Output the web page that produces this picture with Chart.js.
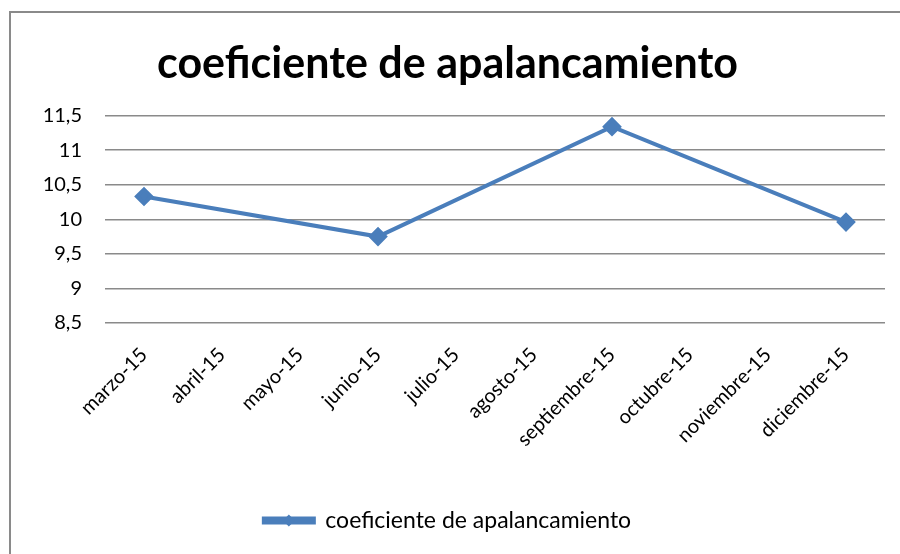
<!DOCTYPE html>
<html lang="es">
<head>
  <meta charset="UTF-8">
  <title>coeficiente de apalancamiento</title>
  <script src="https://cdn.jsdelivr.net/npm/chart.js"></script>
  <style>
    body { margin: 0; background: #fff; }
    #wrap { width: 900px; height: 554px; }
  </style>
</head>
<body>
  <div id="wrap"><canvas id="chart"></canvas></div>
  <script>
    const months = ['marzo-15', 'abril-15', 'mayo-15', 'junio-15', 'julio-15', 'agosto-15',
                    'septiembre-15', 'octubre-15', 'noviembre-15', 'diciembre-15'];
    const coeficiente = [10.33, null, null, 9.75, null, null, 11.34, null, null, 9.96];
    const yTicks = [8.5, 9, 9.5, 10, 10.5, 11, 11.5];

    const blue = '#4a7ebb';
    const font = 'Lato, "Open Sans", sans-serif';

    // grey frame round the chart (only left and top edges show)
    const frame = {
      id: 'frame',
      beforeDraw(chart) {
        const c = chart.ctx;
        c.save();
        c.strokeStyle = '#8a8a8a';
        c.lineWidth = 2;
        c.beginPath();
        c.moveTo(10, 554);
        c.lineTo(10, 12);
        c.lineTo(900, 12);
        c.stroke();
        c.restore();
      }
    };

    // diamond on the legend line
    const legendMarker = {
      id: 'legendMarker',
      afterDraw(chart) {
        const box = chart.legend.legendHitBoxes[0];
        if (!box) return;
        const c = chart.ctx;
        const x = box.left + 25, y = box.top + box.height / 2;
        c.save();
        c.fillStyle = blue;
        c.beginPath();
        c.moveTo(x, y - 6); c.lineTo(x + 6, y); c.lineTo(x, y + 6); c.lineTo(x - 6, y);
        c.closePath();
        c.fill();
        c.restore();
      }
    };

    new Chart(document.getElementById('chart'), {
      type: 'line',
      data: {
        labels: months,
        datasets: [{
          label: 'coeficiente de apalancamiento',
          data: coeficiente,
          spanGaps: true,
          borderColor: blue,
          backgroundColor: blue,
          borderWidth: 4,
          pointStyle: 'rectRot',
          pointRadius: 7,
          pointBackgroundColor: blue,
          pointBorderColor: blue,
          tension: 0
        }]
      },
      options: {
        responsive: true,
        maintainAspectRatio: false,
        animation: false,
        layout: { padding: { top: 28, left: 10, right: 15, bottom: 12 } },
        plugins: {
          title: {
            display: true,
            text: 'coeficiente de apalancamiento',
            color: '#000',
            font: { family: font, size: 43, weight: 'bold' },
            padding: { top: 10, bottom: 26 }
          },
          legend: {
            position: 'bottom',
            labels: {
              color: '#000',
              font: { family: font, size: 23 },
              boxWidth: 50,
              boxHeight: 4,
              padding: 8
            }
          },
          tooltip: { enabled: false }
        },
        scales: {
          x: {
            offset: true,
            grid: { display: false },
            border: { display: false },
            ticks: {
              color: '#000',
              font: { family: font, size: 20 },
              maxRotation: 45,
              minRotation: 45,
              padding: 12,
              autoSkip: false
            },
            afterFit(scale) { scale.height = 178; }
          },
          y: {
            min: 8.5,
            max: 11.5,
            afterBuildTicks(scale) { scale.ticks = yTicks.map(v => ({ value: v })); },
            grid: { color: '#8a8a8a', lineWidth: 1.5, drawTicks: false },
            border: { display: false },
            ticks: {
              color: '#000',
              font: { family: font, size: 20 },
              padding: 23,
              callback: v => String(v).replace('.', ',')
            },
            afterFit(scale) { scale.width = 95; }
          }
        }
      },
      plugins: [frame, legendMarker]
    });
  </script>
</body>
</html>
